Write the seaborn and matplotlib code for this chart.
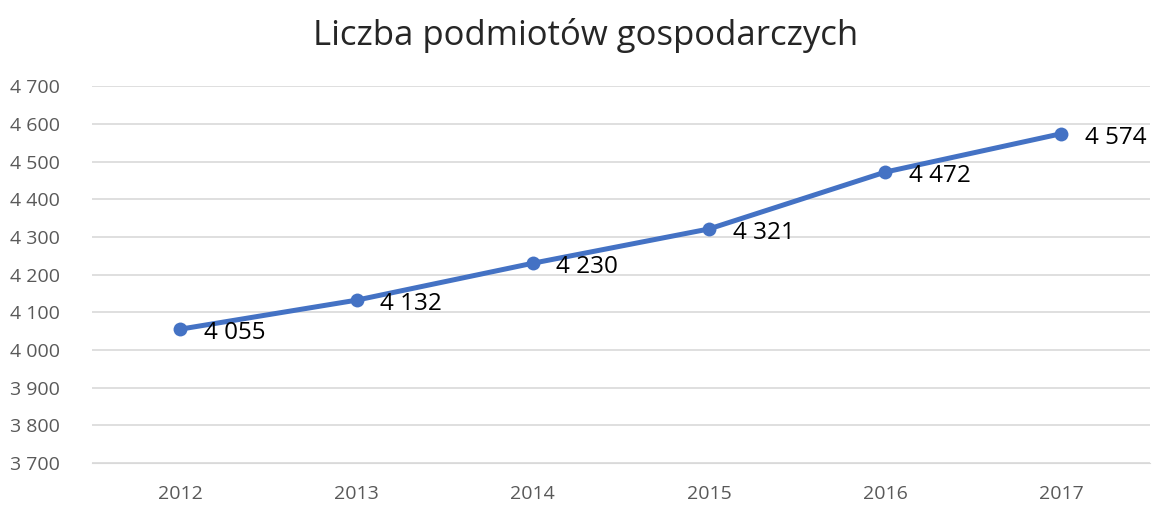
import matplotlib
matplotlib.use("Agg")
import matplotlib.pyplot as plt
import seaborn as sns
import pandas as pd
from matplotlib.ticker import FuncFormatter

# --- Data ---
years = ["2012", "2013", "2014", "2015", "2016", "2017"]
values = [4055, 4132, 4230, 4321, 4472, 4574]

df = pd.DataFrame({"rok": years, "liczba": values})

sns.set_style("white")
plt.rcParams["font.family"] = ["Open Sans", "DejaVu Sans"]

fig = plt.figure(figsize=(11.53, 5.07), dpi=100)
ax = fig.add_axes([0.080, 0.087, 0.917, 0.743])

sns.lineplot(data=df, x="rok", y="liczba", ax=ax, color="#4472C4",
             linewidth=3.6, marker="o", markersize=10, markeredgewidth=0,
             sort=False)

# data labels
for i, v in enumerate(values):
    ax.annotate(f"{v:,}".replace(",", " "), (i, v), xytext=(17, -3),
                textcoords="offset points", ha="left", va="center",
                fontsize=17.5, color="black")

ax.set_ylim(3700, 4700)
ax.set_xlim(-0.5, 5.5)
ax.set_yticks(range(3700, 4701, 100))
ax.yaxis.set_major_formatter(FuncFormatter(lambda v, p: f"{int(v):,}".replace(",", " ")))
ax.grid(axis="y", color="#D9D9D9", linewidth=1.2)
ax.set_axisbelow(True)
for s in ax.spines.values():
    s.set_visible(False)
ax.spines["bottom"].set_visible(True)
ax.spines["bottom"].set_color("#D9D9D9")
ax.tick_params(axis="both", length=0, labelsize=14, colors="#595959")
ax.tick_params(axis="x", pad=16)
ax.tick_params(axis="y", pad=59)
for lbl in ax.get_yticklabels():
    lbl.set_horizontalalignment("left")
ax.set_xlabel("")
ax.set_ylabel("")

fig.suptitle("Liczba podmiotów gospodarczych", fontsize=25, color="#262626",
             x=0.508, y=0.965)

fig.savefig("out.png", dpi=100)
